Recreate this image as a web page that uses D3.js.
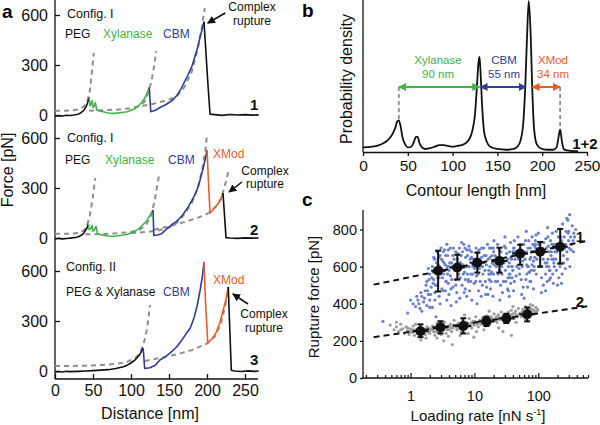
<!DOCTYPE html>
<html><head><meta charset="utf-8">
<script src="https://cdn.jsdelivr.net/npm/d3@7"></script>
<style>body{margin:0;background:#fff}svg{display:block;font-family:"Liberation Sans",Arial,sans-serif}</style>
</head><body><svg id="c" width="600" height="425"></svg>
<script>
// ---------------- DATA ----------------
// Panel a : force traces [distance nm, force pN]
const trace1Black = [[0,-8],[5,-4],[10,-6],[15,-2],[20,-3],[25,0],[30,5],[33,10],[36,20],[39,35],[41,50],[43,75],[45,105]];
const trace1Green = [[45,105],[46,55],[47,60],[49,85],[50,45],[52,55],[53,75],[55,30],[60,22],[65,18],[70,12],[75,10],[80,10],[85,14],[90,16],[95,20],[100,28],[105,38],[110,55],[114,75],[118,100],[121,130],[124,165]];
const trace1Blue = [[124,165],[126,20],[132,28],[138,45],[145,60],[150,75],[155,90],[160,115],[165,150],[170,195],[175,240],[180,290],[184,350],[188,410],[191,470],[194,520],[196,560]];
const trace1End = [[196,560],[198,420],[201,200],[204,5],[210,2],[220,-2],[230,3],[240,0],[250,2],[260,-1],[268,1]];
const trace1Fits = [
  [[0,25],[10,25],[20,27],[30,33],[38,50],[43,90],[46,150],[48,230],[50,320],[51,372]],
  [[45,25],[60,28],[80,32],[100,40],[110,52],[118,80],[124,150],[128,230],[131,310],[133,384]],
  [[115,55],[130,68],[140,80],[150,92],[160,112],[170,165],[180,260],[188,400],[193,520],[197,642]]
];
const trace2Black = [[0,-6],[5,-2],[10,-5],[15,-3],[20,-1],[25,2],[30,6],[34,15],[37,25],[40,45],[42,60],[44,84]];
const trace2Green = [[44,84],[45,50],[47,55],[49,75],[50,40],[52,50],[54,70],[56,25],[60,20],[65,15],[70,12],[75,10],[80,12],[85,15],[90,18],[95,22],[100,30],[105,40],[110,55],[115,75],[120,100],[125,135],[129,168]];
const trace2Blue = [[129,168],[130,15],[135,18],[140,25],[147,55],[155,85],[160,100],[168,138],[175,185],[182,240],[187,290],[191,350],[195,420],[198,480],[200,528]];
const trace2Orange = [[200,528],[202,330],[204,150],[208,170],[212,190],[216,215],[219,245],[221,270]];
const trace2End = [[221,270],[223,140],[225,2],[230,0],[240,-2],[250,1],[260,-1],[268,0]];
const trace2Fits = [
  [[0,25],[20,26],[30,30],[38,45],[42,70],[46,140],[49,220],[51,290],[53,360]],
  [[40,22],[60,24],[80,28],[100,36],[112,52],[120,80],[126,130],[131,220],[134,300],[137,378]],
  [[100,30],[120,36],[135,45],[150,62],[160,90],[170,140],[180,210],[188,300],[194,420],[198,530],[200,618]],
  [[130,50],[150,70],[170,95],[190,125],[200,145],[205,160],[212,190],[218,230],[222,290],[225,340],[228,396]]
];
const trace3Black = [[0,-5],[5,-3],[10,-6],[15,-2],[20,-4],[30,-2],[40,0],[50,2],[60,5],[70,8],[80,15],[90,25],[95,35],[100,48],[105,65],[110,90],[113,110],[116,138]];
const trace3Blue = [[116,138],[118,15],[125,20],[132,35],[138,66],[145,85],[152,110],[160,144],[166,180],[172,220],[178,258],[183,320],[187,390],[191,486],[194,570],[196,654]];
const trace3Orange = [[196,654],[198,420],[201,168],[207,195],[212,230],[217,290],[221,360],[225,430],[228,504]];
const trace3End = [[228,504],[230,250],[232,5],[236,0],[245,-3],[255,1],[262,-2],[268,0]];
const trace3Fits = [
  [[0,30],[20,30],[40,32],[60,36],[80,42],[95,55],[105,75],[112,110],[117,170],[121,250],[123,320],[125,396]],
  [[118,60],[140,80],[160,100],[180,125],[200,165],[210,205],[218,280],[224,390],[228,504]]
];
const forceTicks = [0,300,600];
const distanceTicks = [0,50,100,150,200,250];
// Complex rupture arrows [tail, head] in (nm, pN)
const ruptureArrows = [[[224,612],[201,552]],[[246,336],[229,276]],[[254,402],[234,462]]];

// Panel b : contour length histogram density
const contourLength = [0,10,20,28,33,36,38,40,42,44,47,50,54,57,59,61,63,66,70,75,80,85,90,95,100,105,110,115,119,122,125,127,129,130,131,133,135,138,142,150,160,168,173,176,179,181,183,185,187,189,191,194,198,205,212,216,218,220,222,224,228,235,240];
const density = [0.03,0.035,0.05,0.08,0.12,0.16,0.2,0.21,0.17,0.1,0.05,0.03,0.035,0.07,0.1,0.1,0.06,0.03,0.02,0.025,0.035,0.045,0.045,0.04,0.035,0.04,0.045,0.06,0.09,0.14,0.25,0.42,0.6,0.63,0.55,0.3,0.14,0.07,0.035,0.02,0.015,0.02,0.04,0.08,0.2,0.42,0.75,1.0,0.8,0.4,0.15,0.05,0.025,0.015,0.015,0.03,0.09,0.15,0.07,0.02,0.01,0.005,0.005];
const contourTicks = [0,50,100,150,200,250];
const domainNames = ["Xylanase","CBM","XMod"];
const domainLengths = ["90 nm","55 nm","34 nm"];
const domainSpans = [[40,130],[131,182],[189,220]];

// Panel c : rupture force vs loading rate
const blueScatter = [
[1.1,400],[1.2,385],[1.3,420],[1.4,375],[1.5,440],[1.5,360],[1.6,410],[1.7,470],[1.8,390],[1.8,520],[1.9,450],[2.0,560],[2.0,420],[2.1,490],[2.2,600],[2.2,380],[2.3,530],[2.4,460],[2.4,640],[2.5,570],[2.6,500],[2.6,680],[2.7,610],[2.8,440],[2.8,540],[2.9,660],[3.0,700],[3.0,590],[3.1,480],[3.2,630],[3.3,560],[3.4,690],[3.5,610],[3.6,520],[3.8,660],[4.0,580],[4.2,700],[4.4,620],[2.3,650],[1.9,590],[3.7,720],[2.9,400],
[3.5,470],[3.7,420],[3.9,510],[4.0,450],[4.2,550],[4.3,390],[4.5,600],[4.6,490],[4.8,640],[5.0,530],[5.1,680],[5.3,460],[5.4,580],[5.6,620],[5.8,700],[6.0,540],[6.2,660],[6.4,500],[6.6,610],[6.8,720],[7.0,570],[7.3,650],[7.6,690],[7.9,600],[8.2,710],[8.6,640],[9.0,680],[4.1,620],[5.2,410],[6.9,460],[4.7,700],[8.0,530],[5.9,430],[6.3,730],
[7.2,480],[7.6,440],[8.0,520],[8.4,470],[8.8,560],[9.1,420],[9.5,600],[9.9,510],[10.3,640],[10.8,550],[11.2,680],[11.6,470],[12.0,590],[12.5,630],[13.0,700],[13.6,560],[14.2,660],[14.8,520],[15.4,610],[16.0,720],[16.8,580],[17.6,650],[18.4,700],[19.3,620],[20.2,740],[12.8,440],[9.0,650],[15.0,450],[10.6,700],[18.0,560],[13.3,500],[11.0,400],
[15.5,490],[16.3,450],[17,530],[17.8,480],[18.6,570],[19.5,440],[20.4,610],[21.3,520],[22.3,650],[23.4,560],[24.5,690],[25.6,500],[26.8,600],[28,640],[29.3,710],[30.6,580],[32,670],[33.5,540],[35,620],[36.6,730],[38.3,600],[40,680],[42,740],[27.5,460],[20,680],[34,470],[23,720],[39,540],[30,760],[25,420],
[31,520],[33,480],[35,560],[37,510],[39,600],[41,470],[43,640],[45,550],[47,680],[50,590],[52,720],[54,530],[57,630],[60,670],[63,740],[66,610],[69,700],[72,570],[76,650],[80,760],[84,630],[88,710],[92,770],[58,490],[42,700],[74,520],[48,760],[86,580],[65,790],[55,450],
[64,530],[68,490],[72,570],[76,520],[80,610],[84,480],[88,650],[93,560],[98,690],[103,600],[108,730],[113,540],[119,640],[125,680],[131,750],[137,620],[144,710],[151,580],[158,660],[166,780],[174,640],[182,720],[190,790],[120,500],[90,720],[150,530],[100,780],[178,600],[140,810],[112,460],
[130,560],[138,520],[146,600],[155,540],[164,640],[172,510],[182,680],[192,580],[202,720],[213,620],[225,760],[236,560],[248,660],[260,700],[272,790],[285,640],[298,740],[312,600],[326,690],[340,820],[355,680],[370,760],[385,800],[240,830],[200,500],[280,860],[300,790],[265,590],[350,740],[220,690],[175,620],[310,880],[230,510],
[0.37,305],[0.9,350],[1.0,420],[2.5,330],[60,430],[35,440],[130,470],
[1.25,440],[1.35,400],[1.45,460],[1.65,430],[1.75,500],[1.85,470],[1.95,530],[2.05,450],[2.15,540],[2.25,510],[2.35,580],[2.45,500],[2.55,620],[2.65,540],[2.75,650],[2.85,600],[2.95,560],[3.05,640],[3.15,540],[3.25,680],[3.35,620],[3.45,580],[3.55,660],[3.75,600],[3.9,690],[2.0,380],[2.4,420],[3.2,470],
[3.6,520],[3.8,560],[4.0,600],[4.4,530],[4.6,660],[4.9,580],[5.1,500],[5.5,670],[5.7,560],[6.1,620],[6.5,680],[6.7,560],[7.1,700],[7.4,600],[7.8,660],[8.4,690],[4.3,480],[5.4,640],[6.0,600],[7.2,530],
[7.8,560],[8.3,600],[8.7,520],[9.3,560],[9.7,640],[10.1,590],[10.5,520],[11.0,630],[11.4,560],[11.9,690],[12.3,520],[12.9,650],[13.4,600],[14.0,700],[14.6,580],[15.2,660],[16.4,640],[17.2,700],[18.8,660],[19.8,700],
[16.8,560],[17.5,600],[18.2,520],[19.0,620],[20.0,560],[21.0,660],[22.0,600],[23.0,520],[24.0,640],[25.0,580],[26.0,680],[27.0,560],[29.0,620],[31.0,700],[33.0,640],[35.5,680],[37.0,650],[41,700],[28.5,520],[36,560],
[34,600],[36,540],[38,640],[40,580],[42,520],[44,680],[46,600],[49,640],[51,560],[53,680],[56,600],[59,720],[62,640],[65,680],[68,600],[71,740],[75,700],[78,680],[82,720],[90,740],
[66,560],[70,600],[74,640],[78,580],[82,680],[86,600],[91,700],[95,640],[101,720],[106,660],[111,600],[116,700],[122,730],[128,620],[134,700],[141,760],[148,680],[155,740],[163,720],[170,700],
[135,600],[142,640],[150,580],[160,680],[168,560],[178,720],[188,640],[197,680],[207,760],[218,600],[230,740],[243,700],[255,760],[268,720],[280,680],[292,780],[305,700],[320,760],[335,720],[360,780],[250,620],[210,540],[190,700],[290,850]];
const grayScatter = [
[0.48,285],[0.55,260],[0.6,275],[0.65,250],[0.7,290],[0.75,265],[0.8,240],
[0.85,275],[0.9,255],[0.95,235],[1.0,265],[1.05,245],[1.1,280],[1.15,230],[1.2,260],[1.25,250],[1.3,240],[1.35,270],[1.4,225],[1.5,255],[1.55,245],[1.6,265],[1.7,235],[1.8,275],[1.9,250],[2.0,240],[1.2,290],[1.45,205],[1.75,215],
[2.1,265],[2.2,280],[2.3,250],[2.4,230],[2.5,270],[2.6,295],[2.7,245],[2.8,260],[2.9,285],[3.0,235],[3.1,270],[3.2,255],[3.4,300],[3.6,240],[3.8,275],[4.0,260],[4.2,290],[4.4,250],[4.6,270],[4.8,310],[3.3,200],[2.6,215],[3.9,225],[4.5,180],
[5.0,280],[5.3,260],[5.6,295],[5.9,270],[6.2,250],[6.5,310],[6.8,285],[7.1,265],[7.5,300],[7.9,275],[8.3,320],[8.7,290],[9.1,270],[9.5,305],[10,285],[10.5,330],[11,300],[11.5,275],[6.0,230],[8.0,240],[7.0,340],[9.8,220],[10.8,250],
[12,310],[12.7,290],[13.4,325],[14.1,300],[14.9,280],[15.7,335],[16.5,310],[17.4,290],[18.3,330],[19.3,305],[20.3,345],[21.4,320],[22.5,300],[23.7,340],[25,315],[26.3,355],[27.7,330],[29.1,310],[24,270],[17,360],[28,250],[14,260],
[30.6,340],[32.2,320],[34,355],[35.8,330],[37.7,365],[39.7,345],[41.8,320],[44,360],[46.3,340],[48.8,375],[51.4,350],[54,330],[57,370],[60,350],[63,385],[66,360],[70,340],[74,375],[78,355],[82,390],[86,365],[92,380],[98,370],[45,300],[62,320],[40,385],[38,230],[75,395],
[0.6,300],[0.7,260],[0.9,270],[1.0,250],[1.1,260],[1.3,265],[1.4,250],[1.6,245],[1.7,260],[1.9,270],[2.0,255],[2.2,260],[2.3,275],[2.5,250],[2.7,265],[2.9,255],[3.1,285],[3.3,265],[3.5,275],[3.7,260],[4.1,280],[4.3,270],[4.7,285],[5.2,275],[5.5,265],[5.8,290],[6.3,280],[6.7,270],[7.3,285],[7.7,295],[8.5,280],[9.0,300],[9.7,290],[10.2,305],[11.2,290],[12.3,300],[13.0,310],[13.8,295],[15.3,310],[16.2,300],[17.8,315],[19.0,320],[20.8,310],[22,330],[24.5,325],[26.8,320],[28.6,340],[31.4,330],[33,345],[36.8,340],[40,330],[43,350],[47,330],[52,345],[56,355],[61,340],[67,350],[72,365],[80,370],[88,355],[95,360]];
const s1Rate = [2.7,5.4,11.1,24.6,52,107,220];
const s1RateLo = [2.1,4.1,8.4,18.5,39,80,165];
const s1RateHi = [3.5,7.1,14.7,33,69,142,290];
const s1Force = [578,595,621,630,670,680,707];
const s1ForceLo = [466,530,568,568,610,600,616];
const s1ForceHi = [686,664,675,702,718,733,803];
const s2Rate = [1.43,2.94,6.7,15.4,31.6,67];
const s2RateLo = [1.07,2.2,5.0,11.6,23.8,50];
const s2RateHi = [1.9,3.9,8.9,20.5,42,89];
const s2Force = [252,273,280,305,321,343];
const s2ForceLo = [220,240,240,280,296,305];
const s2ForceHi = [289,306,322,330,346,380];
const fit1Line = [[0.264,503],[583,739]];
const fit2Line = [[0.264,220],[583,386]];
const rateTickLabels = [1,10,100];
const ruptureTicks = [0,200,400,600,800];

// ---------------- DRAWING ----------------
const svg = d3.select("#c");
const COL = {k:"#111", green:"#41b34a", blue:"#2f3d98", orange:"#f05a28", dash:"#8e8e8e", sBlue:"#6c80c8", sGray:"#9e9e9e"};
const defs = svg.append("defs");
function marker(id, color, w, h){
  defs.append("marker").attr("id",id).attr("viewBox","0 0 10 10").attr("refX",9).attr("refY",5)
    .attr("markerUnits","userSpaceOnUse").attr("markerWidth",w).attr("markerHeight",h)
    .attr("orient","auto-start-reverse").append("path").attr("d","M0,0L10,5L0,10z").attr("fill",color);
}
marker("mk","#111",8,8); marker("mg",COL.green,8,8); marker("mb",COL.blue,8,8); marker("mo",COL.orange,8,8);

// ===== Panel a =====
const xA = d3.scaleLinear().domain([0,250]).range([55,245]);
const yA = [d3.scaleLinear().domain([0,600]).range([115,15]),
            d3.scaleLinear().domain([0,600]).range([238,138]),
            d3.scaleLinear().domain([0,600]).range([371,271])];
const gA = svg.append("g");
gA.append("line").attr("x1",55).attr("x2",55).attr("y1",0).attr("y2",379).attr("stroke","#111").attr("stroke-width",1.3);
gA.append("line").attr("x1",55).attr("x2",xA(267)).attr("y1",379).attr("y2",379).attr("stroke","#111").attr("stroke-width",1.3);
yA.forEach(y=>{
  const ax = gA.append("g").attr("transform","translate(55,0)")
    .call(d3.axisLeft(y).tickValues(forceTicks).tickSizeInner(-5).tickSizeOuter(0).tickPadding(7));
  ax.select(".domain").remove();
  ax.selectAll("line").attr("stroke","#111").attr("stroke-width",1.3);
  ax.selectAll("text").attr("font-size",16).attr("fill","#111").attr("font-family",null);
});
const axA = gA.append("g").attr("transform","translate(0,379)")
  .call(d3.axisBottom(xA).tickValues(distanceTicks).tickSizeInner(-5).tickSizeOuter(0).tickPadding(6));
axA.select(".domain").remove();
axA.selectAll("line").attr("stroke","#111").attr("stroke-width",1.3);
axA.selectAll("text").attr("font-size",16).attr("fill","#111").attr("font-family",null);
gA.append("text").attr("x",150).attr("y",419).attr("text-anchor","middle").attr("font-size",16).attr("fill","#111").text("Distance [nm]");
gA.append("text").attr("transform","translate(13,170) rotate(-90)").attr("text-anchor","middle").attr("font-size",16).attr("fill","#111").text("Force [pN]");
svg.append("text").attr("x",2).attr("y",18).attr("font-size",19).attr("font-weight","bold").text("a");

const traces = [
  {y:yA[0], fits:trace1Fits, segs:[[trace1Black,COL.k],[trace1Green,COL.green],[trace1Blue,COL.blue],[trace1End,COL.k]]},
  {y:yA[1], fits:trace2Fits, segs:[[trace2Black,COL.k],[trace2Green,COL.green],[trace2Blue,COL.blue],[trace2Orange,COL.orange],[trace2End,COL.k]]},
  {y:yA[2], fits:trace3Fits, segs:[[trace3Black,COL.k],[trace3Blue,COL.blue],[trace3Orange,COL.orange],[trace3End,COL.k]]}
];
traces.forEach((t,i)=>{
  const ln = d3.line().x(d=>xA(d[0])).y(d=>t.y(d[1]));
  t.fits.forEach(f=>gA.append("path").attr("d",ln(f)).attr("fill","none").attr("stroke",COL.dash).attr("stroke-width",2).attr("stroke-dasharray","5,4"));
  t.segs.forEach(s=>gA.append("path").attr("d",ln(s[0])).attr("fill","none").attr("stroke",s[1]).attr("stroke-width",1.6).attr("stroke-linejoin","round"));
  const a = ruptureArrows[i];
  gA.append("line").attr("x1",xA(a[0][0])).attr("y1",t.y(a[0][1])).attr("x2",xA(a[1][0])).attr("y2",t.y(a[1][1]))
    .attr("stroke","#111").attr("stroke-width",1.5).attr("marker-end","url(#mk)");
});
function txt(g,x,y,s,opt){
  const t=g.append("text").attr("x",x).attr("y",y).text(s).attr("font-size",opt.size||12).attr("fill",opt.fill||"#111");
  if(opt.anchor) t.attr("text-anchor",opt.anchor);
  if(opt.bold) t.attr("font-weight","bold");
  return t;
}
// trace 1 labels
txt(gA,67,18,"Config. I",{size:12.5});
txt(gA,65,38,"PEG",{});
txt(gA,103,38,"Xylanase",{fill:COL.green});
txt(gA,163,38,"CBM",{fill:COL.blue});
txt(gA,252,11,"Complex",{anchor:"middle"});
txt(gA,252,25,"rupture",{anchor:"middle"});
txt(gA,250,110,"1",{size:15,bold:true});
// trace 2 labels
txt(gA,67,142,"Config. I",{size:12.5});
txt(gA,65,164,"PEG",{});
txt(gA,105,164,"Xylanase",{fill:COL.green});
txt(gA,168,164,"CBM",{fill:COL.blue});
txt(gA,213,158,"XMod",{fill:COL.orange});
txt(gA,265,175,"Complex",{anchor:"middle"});
txt(gA,265,188,"rupture",{anchor:"middle"});
txt(gA,250,235,"2",{size:15,bold:true});
// trace 3 labels
txt(gA,66,271,"Config. II",{size:12.5});
txt(gA,66,296,"PEG & Xylanase",{});
txt(gA,163,296,"CBM",{fill:COL.blue});
txt(gA,213,284,"XMod",{fill:COL.orange});
txt(gA,264,318,"Complex",{anchor:"middle"});
txt(gA,264,332,"rupture",{anchor:"middle"});
txt(gA,250,365,"3",{size:15,bold:true});

// ===== Panel b =====
const xB = d3.scaleLinear().domain([0,250]).range([363,587]);
const yB = d3.scaleLinear().domain([0,1]).range([152,1]);
const gB = svg.append("g");
gB.append("line").attr("x1",363).attr("x2",363).attr("y1",0).attr("y2",152).attr("stroke","#111").attr("stroke-width",1.3);
const axB = gB.append("g").attr("transform","translate(0,152)")
  .call(d3.axisBottom(xB).tickValues(contourTicks).tickSizeInner(4).tickSizeOuter(0).tickPadding(4));
axB.select(".domain").attr("stroke","#111").attr("stroke-width",1.3);
axB.selectAll("line").attr("stroke","#111").attr("stroke-width",1.3);
axB.selectAll("text").attr("font-size",15.5).attr("fill","#111").attr("font-family",null);
gB.append("text").attr("x",476).attr("y",196).attr("text-anchor","middle").attr("font-size",16).attr("fill","#111").text("Contour length [nm]");
gB.append("text").attr("transform","translate(352,79) rotate(-90)").attr("text-anchor","middle").attr("font-size",16).attr("fill","#111").text("Probability density");
svg.append("text").attr("x",302).attr("y",17).attr("font-size",19).attr("font-weight","bold").text("b");
const lineB = d3.line().x((d,i)=>xB(contourLength[i])).y(d=>yB(d)).curve(d3.curveMonotoneX);
gB.append("path").attr("d",lineB(density)).attr("fill","none").attr("stroke","#111").attr("stroke-width",1.8);
const arrowY = 87;
const dCol=[COL.green,COL.blue,COL.orange], mk=["mg","mb","mo"];
[[domainSpans[0][0],0.2],[domainSpans[2][1],0.15]].forEach(p=>{
  gB.append("line").attr("x1",xB(p[0])).attr("x2",xB(p[0])).attr("y1",arrowY).attr("y2",yB(p[1])).attr("stroke",COL.dash).attr("stroke-width",1.8).attr("stroke-dasharray","4,3");
});
domainSpans.forEach((s,i)=>{
  gB.append("line").attr("x1",xB(s[0])).attr("x2",xB(s[1])).attr("y1",arrowY).attr("y2",arrowY)
    .attr("stroke",dCol[i]).attr("stroke-width",2).attr("marker-start",`url(#${mk[i]})`).attr("marker-end",`url(#${mk[i]})`);
});
[438,504,553].forEach((cx,i)=>{
  txt(gB,cx,64,domainNames[i],{anchor:"middle",fill:dCol[i],size:11.5});
  txt(gB,cx,78,domainLengths[i],{anchor:"middle",fill:dCol[i],size:11.5});
});
txt(gB,585,149,"1+2",{size:15,bold:true,anchor:"middle"});

// ===== Panel c =====
const xC = d3.scaleLog().domain([0.18,600]).range([363,588]);
const yC = d3.scaleLinear().domain([0,905]).range([378,210]);
const gC = svg.append("g");
svg.append("text").attr("x",302).attr("y",206).attr("font-size",19).attr("font-weight","bold").text("c");
gC.selectAll(".bs").data(blueScatter).join("circle").attr("cx",d=>xC(d[0])).attr("cy",d=>yC(d[1])).attr("r",1.6).attr("fill",COL.sBlue);
gC.selectAll(".gs").data(grayScatter).join("circle").attr("cx",d=>xC(d[0])).attr("cy",d=>yC(d[1])).attr("r",1.6).attr("fill",COL.sGray);
[fit1Line,fit2Line].forEach(f=>{
  gC.append("line").attr("x1",xC(f[0][0])).attr("y1",yC(f[0][1])).attr("x2",xC(f[1][0])).attr("y2",yC(f[1][1]))
    .attr("stroke","#111").attr("stroke-width",2).attr("stroke-dasharray","6,4");
});
function errPts(rate,lo,hi,f,flo,fhi){
  rate.forEach((r,i)=>{
    const x=xC(r), y=yC(f[i]);
    gC.append("line").attr("x1",xC(lo[i])).attr("x2",xC(hi[i])).attr("y1",y).attr("y2",y).attr("stroke","#111").attr("stroke-width",2);
    gC.append("line").attr("x1",x).attr("x2",x).attr("y1",yC(flo[i])).attr("y2",yC(fhi[i])).attr("stroke","#111").attr("stroke-width",2);
    [flo[i],fhi[i]].forEach(v=>gC.append("line").attr("x1",x-3).attr("x2",x+3).attr("y1",yC(v)).attr("y2",yC(v)).attr("stroke","#111").attr("stroke-width",2));
    gC.append("circle").attr("cx",x).attr("cy",y).attr("r",5).attr("fill","#111");
  });
}
errPts(s1Rate,s1RateLo,s1RateHi,s1Force,s1ForceLo,s1ForceHi);
errPts(s2Rate,s2RateLo,s2RateHi,s2Force,s2ForceLo,s2ForceHi);
txt(gC,580,242,"1",{size:15,bold:true,anchor:"middle"});
txt(gC,580,307,"2",{size:15,bold:true,anchor:"middle"});
gC.append("line").attr("x1",363).attr("x2",363).attr("y1",210).attr("y2",378).attr("stroke","#111").attr("stroke-width",1.3);
gC.append("line").attr("x1",363).attr("x2",588).attr("y1",378).attr("y2",378).attr("stroke","#111").attr("stroke-width",1.3);
const ayC = gC.append("g").attr("transform","translate(363,0)")
  .call(d3.axisLeft(yC).tickValues(ruptureTicks).tickSizeInner(3).tickSizeOuter(0).tickPadding(3));
ayC.select(".domain").remove();
ayC.selectAll("line").attr("stroke","#111").attr("stroke-width",1.3);
ayC.selectAll("text").attr("font-size",14.5).attr("fill","#111").attr("font-family",null);
const rateTicks = xC.ticks().filter(v=>v>=0.18&&v<=600);
const axC = gC.append("g").attr("transform","translate(0,378)")
  .call(d3.axisBottom(xC).tickValues(rateTicks).tickSizeInner(-3).tickSizeOuter(0).tickPadding(13)
    .tickFormat(v=>rateTickLabels.includes(v)?String(v):""));
axC.select(".domain").remove();
axC.selectAll("line").attr("stroke","#111").attr("stroke-width",1.2).attr("y2",d=>rateTickLabels.includes(d)?-5:-3);
axC.selectAll("text").attr("font-size",14.5).attr("fill","#111").attr("font-family",null);
const xl = gC.append("text").attr("x",478).attr("y",421).attr("text-anchor","middle").attr("font-size",15).attr("fill","#111");
xl.append("tspan").text("Loading rate [nN s");
xl.append("tspan").attr("font-size",9).attr("dy",-6).text("-1");
xl.append("tspan").attr("dy",6).text("]");
gC.append("text").attr("transform","translate(319,297) rotate(-90)").attr("text-anchor","middle").attr("font-size",15).attr("fill","#111").text("Rupture force [pN]");
</script></body></html>
